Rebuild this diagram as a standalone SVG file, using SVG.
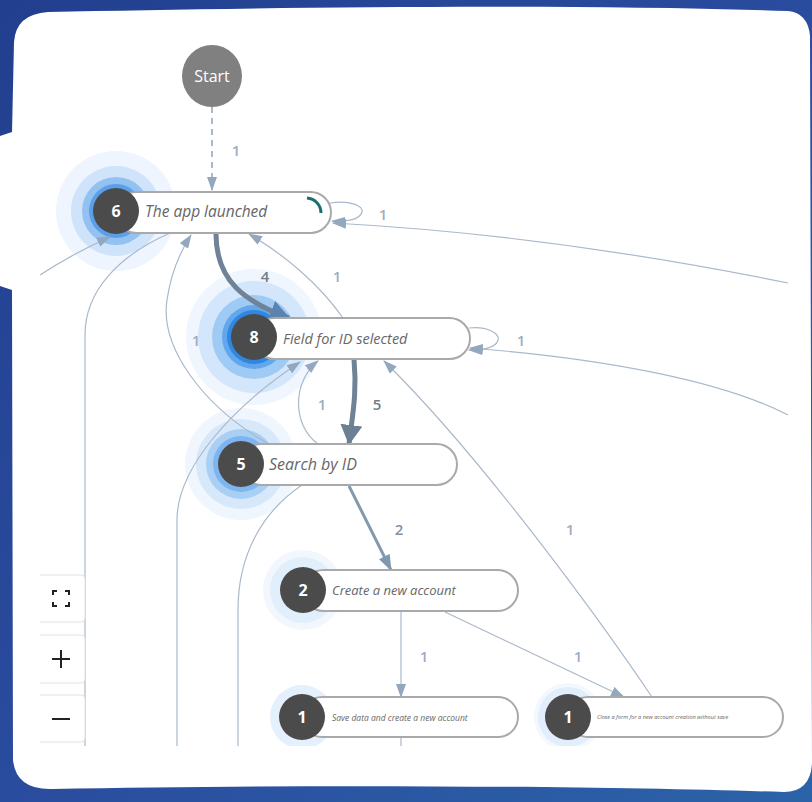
<svg xmlns="http://www.w3.org/2000/svg" width="812" height="802" viewBox="0 0 812 802">
<defs>
<linearGradient id="bg" x1="0" y1="0" x2="1" y2="1">
<stop offset="0" stop-color="#223f8f"/>
<stop offset="0.5" stop-color="#2a4c9e"/>
<stop offset="1" stop-color="#2b63a8"/>
</linearGradient>
<clipPath id="view"><rect x="40" y="0" width="750" height="746"/></clipPath>
<marker id="ah" viewBox="0 0 14 10" refX="13" refY="5" markerWidth="14" markerHeight="10" markerUnits="userSpaceOnUse" orient="auto"><path d="M0,0 L14,5 L0,10 z" fill="#93a8bf"/></marker>
<marker id="ahm" viewBox="0 0 16 12" refX="15" refY="6" markerWidth="16" markerHeight="12" markerUnits="userSpaceOnUse" orient="auto"><path d="M0,0 L16,6 L0,12 z" fill="#8197ae"/></marker>
<marker id="ahb" viewBox="0 0 20 22" refX="19" refY="11" markerWidth="20" markerHeight="22" markerUnits="userSpaceOnUse" orient="auto"><path d="M0,0 L20,11 L0,22 z" fill="#6c7f93"/></marker>
<marker id="ahblue" viewBox="0 0 20 22" refX="19" refY="11" markerWidth="20" markerHeight="22" markerUnits="userSpaceOnUse" orient="auto"><path d="M0,0 L20,11 L0,22 z" fill="#5a83b0"/></marker>
</defs>
<style>
.edge{fill:none;stroke:#a9b9ca;stroke-width:1.2}
.thick{fill:none;stroke:#6f8296;stroke-width:5}
.pill{fill:#fff;stroke:#a9a9a9;stroke-width:2}
.num{fill:#4b4b4b}
.numt{fill:#fff;font-family:"Open Sans","Noto Sans",sans-serif;font-weight:700;font-size:16px;text-anchor:middle;dominant-baseline:central}
.lbl{fill:#666;font-family:"Open Sans","Noto Sans",sans-serif;font-style:italic;dominant-baseline:central}
.el{font-family:"Open Sans","Noto Sans",sans-serif;font-weight:600;font-size:15px;text-anchor:middle;dominant-baseline:central;fill:#9dadc0}
.btn{fill:#fff;stroke:#e2e2e2;stroke-width:1}
</style>
<rect width="812" height="802" fill="url(#bg)"/>
<path d="M14,42 Q16,14 48,12 C250,8 550,3 788,11 Q808,13 810,36 L812,764 Q810,792 784,792 C600,786 300,784 52,789 Q16,790 13,760 L12,290 L0,286 L0,136 L12,132 Z" fill="#fff"/>

<g clip-path="url(#view)">
<g id="halos">
<circle cx="116" cy="211" r="60" fill="#eef5fe"/>
<circle cx="116" cy="211" r="45" fill="#cfe3fa"/>
<circle cx="116" cy="211" r="34" fill="#93c1f1"/>
<circle cx="116" cy="211" r="27" fill="#5b9fe9"/>
<circle cx="254" cy="337" r="68" fill="#eff6fe"/>
<circle cx="254" cy="337" r="56" fill="#d3e6fb"/>
<circle cx="254" cy="337" r="42" fill="#9fcaf4"/>
<circle cx="254" cy="337" r="32" fill="#62a7ec"/>
<circle cx="254" cy="337" r="27" fill="#2f87e2"/>
<circle cx="241" cy="464" r="56" fill="#f0f6fe"/>
<circle cx="241" cy="464" r="45" fill="#d8e8fb"/>
<circle cx="241" cy="464" r="35" fill="#a9cff5"/>
<circle cx="241" cy="464" r="28" fill="#7cb5ef"/>
<circle cx="303" cy="590" r="40" fill="#f2f7fe"/>
<circle cx="303" cy="590" r="33" fill="#e1eefc"/>
<circle cx="302" cy="717" r="32" fill="#e5f0fd"/>
<circle cx="568" cy="717" r="34" fill="#f3f8fe"/>
<circle cx="568" cy="717" r="30" fill="#e2eefc"/>
</g>

<g id="connectors">
<path d="M212,107 L212,190" fill="none" stroke="#93a8bf" stroke-width="1.6" stroke-dasharray="6,5" marker-end="url(#ah)"/>
<path d="M330,203 C350,200 364,206 362,212 C360,220 345,222 332,221" class="edge" marker-end="url(#ah)"/>
<path d="M788,283 C650,255 500,232 333,223" class="edge" marker-end="url(#ah)"/>
<path d="M216,234 C216,282 246,302 289,318" class="thick" marker-end="url(#ahblue)"/>
<path d="M343,318 C320,285 285,255 249,234" class="edge" marker-end="url(#ah)"/>
<path d="M269,444 C200,405 160,345 167,300 C171,272 180,252 191,235" class="edge" marker-end="url(#ah)"/>
<path d="M85,746 L85,335 C85,290 120,255 170,233" class="edge"/>
<path d="M40,275 C60,262 85,248 110,237" class="edge" marker-end="url(#ah)"/>
<path d="M469,328 C488,326 500,334 498,340 C496,348 484,350 469,350" class="edge" marker-end="url(#ah)"/>
<path d="M788,415 C720,380 600,358 470,348" class="edge" marker-end="url(#ah)"/>
<path d="M354,359 C357,392 353,412 349,444" class="thick" marker-end="url(#ahb)"/>
<path d="M318,444 C292,425 292,382 318,361" class="edge" marker-end="url(#ah)"/>
<path d="M177,746 L177,520 C177,470 228,410 300,362" class="edge" marker-end="url(#ah)"/>
<path d="M238,746 L238,610 C238,555 262,512 302,485" class="edge"/>
<path d="M349,486 L391,570" fill="none" stroke="#8399b0" stroke-width="3" marker-end="url(#ahm)"/>
<path d="M401,611 L401,697" class="edge" marker-end="url(#ah)"/>
<path d="M445,612 L624,697" class="edge" marker-end="url(#ah)"/>
<path d="M652,697 C600,620 480,455 384,361" class="edge" marker-end="url(#ah)"/>
<path d="M401,737 L401,746" class="edge"/>
</g>

<g id="edge-labels">
<text class="el" x="236" y="150">1</text>
<text class="el" x="383" y="214">1</text>
<text class="el" x="265" y="276" style="fill:#6f7d8d">4</text>
<text class="el" x="337" y="276">1</text>
<text class="el" x="196" y="340">1</text>
<text class="el" x="521" y="340">1</text>
<text class="el" x="322" y="404">1</text>
<text class="el" x="377" y="404" style="fill:#6f7d8d">5</text>
<text class="el" x="399" y="529" style="fill:#8193a8">2</text>
<text class="el" x="570" y="529">1</text>
<text class="el" x="424" y="656">1</text>
<text class="el" x="578" y="656">1</text>
</g>

<g id="start">
<ellipse cx="212" cy="76" rx="30" ry="31" fill="#808080"/>
<text x="212" y="76" fill="#fff" font-family="Open Sans,Noto Sans,sans-serif" font-size="16" text-anchor="middle" dominant-baseline="central">Start</text>
</g>

<g id="n-app-launched">
<rect class="pill" x="116" y="192" width="215" height="41" rx="20.5"/>
<path d="M307,198 A15,15 0 0 1 321,213" fill="none" stroke="#1b6e6e" stroke-width="3"/>
<circle class="num" cx="116" cy="211" r="23"/>
<text class="numt" x="116" y="211">6</text>
<text class="lbl" x="145" y="211" font-size="15.5">The app launched</text>
</g>

<g id="n-field-id">
<rect class="pill" x="254" y="318" width="216" height="41" rx="20.5"/>
<circle class="num" cx="254" cy="337" r="23"/>
<text class="numt" x="254" y="337">8</text>
<text class="lbl" x="283" y="338" font-size="14.5">Field for ID selected</text>
</g>

<g id="n-search-id">
<rect class="pill" x="241" y="444" width="216" height="41" rx="20.5"/>
<circle class="num" cx="241" cy="464" r="23"/>
<text class="numt" x="241" y="464">5</text>
<text class="lbl" x="269" y="464" font-size="16">Search by ID</text>
</g>

<g id="n-create-account">
<rect class="pill" x="303" y="570" width="215" height="41" rx="20.5"/>
<circle class="num" cx="303" cy="590" r="23"/>
<text class="numt" x="303" y="590">2</text>
<text class="lbl" x="332" y="590" font-size="13">Create a new account</text>
</g>

<g id="n-save-data">
<rect class="pill" x="302" y="697" width="216" height="40" rx="20"/>
<circle class="num" cx="302" cy="717" r="23"/>
<text class="numt" x="302" y="717">1</text>
<text class="lbl" x="332" y="717" font-size="8.5">Save data and create a new account</text>
</g>

<g id="n-close-form">
<rect class="pill" x="568" y="697" width="215" height="40" rx="20"/>
<circle class="num" cx="568" cy="717" r="23"/>
<text class="numt" x="568" y="717">1</text>
<text class="lbl" x="597" y="717" font-size="5.6">Close a form for a new account creation without save</text>
</g>
</g>

<g id="controls">
<path class="btn" d="M40,575 L81,575 Q85,575 85,579 L85,618 Q85,622 81,622 L40,622"/>
<path class="btn" d="M40,635 L81,635 Q85,635 85,639 L85,679 Q85,683 81,683 L40,683"/>
<path class="btn" d="M40,695 L81,695 Q85,695 85,699 L85,738 Q85,742 81,742 L40,742"/>
<path d="M53,595 L53,591 L57,591 M65,591 L69,591 L69,595 M69,602 L69,606 L65,606 M57,606 L53,606 L53,602" fill="none" stroke="#222" stroke-width="2"/>
<path d="M52,659 L70,659 M61,650 L61,668" stroke="#222" stroke-width="2"/>
<path d="M52,719 L70,719" stroke="#222" stroke-width="2"/>
</g>
</svg>
